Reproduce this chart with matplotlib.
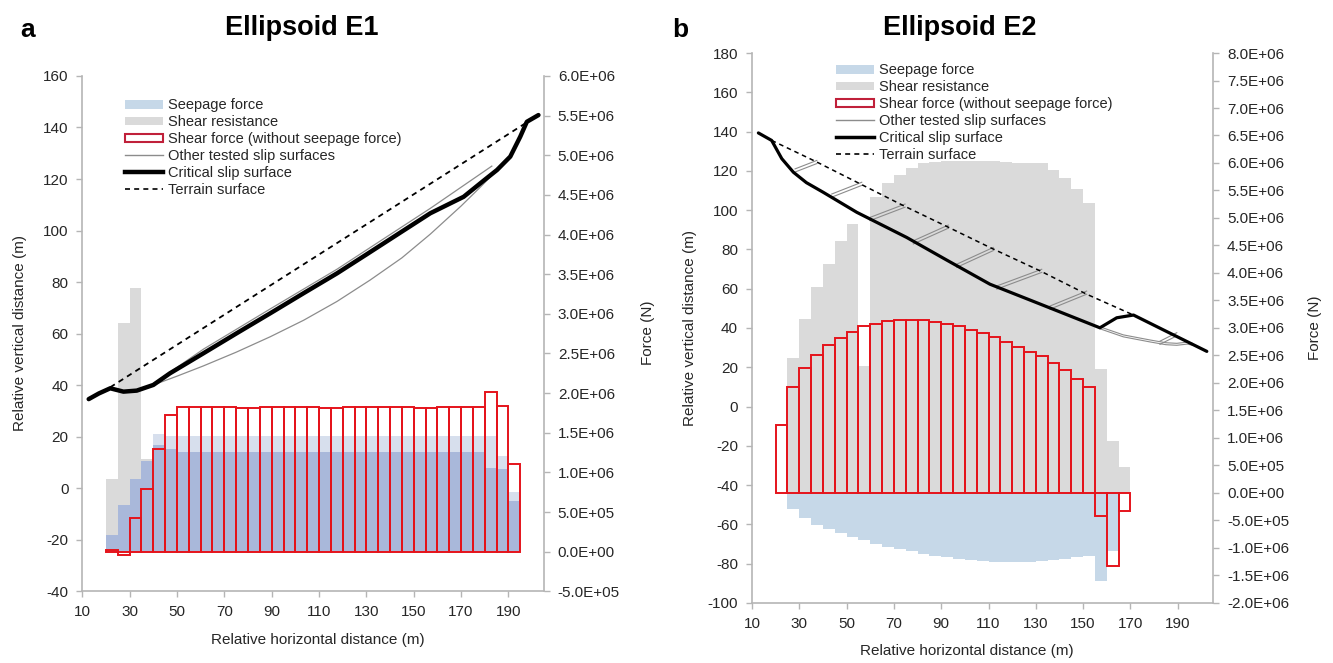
import numpy as np
import matplotlib.pyplot as plt
from matplotlib.patches import Patch
from matplotlib.lines import Line2D
from matplotlib.ticker import FuncFormatter, MultipleLocator

plt.rcParams['font.family'] = ['Liberation Sans', 'DejaVu Sans']
plt.rcParams['axes.unicode_minus'] = False

# ---------------- panel a : Ellipsoid E1 ----------------
slice_a = np.arange(20, 195, 5)          # left edge of each slice (m)
seepage_a = np.array([0.21, 0.59, 0.92, 1.15, 1.48, 1.46,
                      1.46, 1.46, 1.46, 1.46, 1.46, 1.46, 1.46, 1.46, 1.46, 1.46, 1.46, 1.46, 1.46,
                      1.46, 1.46, 1.46, 1.46, 1.46, 1.46, 1.46, 1.46, 1.46, 1.46, 1.46, 1.46, 1.46,
                      1.46, 1.21, 0.75]) * 1e6
resist_a = np.array([0.92, 2.88, 3.32, 1.17, 1.34, 1.30,
                     1.26, 1.26, 1.26, 1.26, 1.26, 1.26, 1.26, 1.26, 1.26, 1.26, 1.26, 1.26, 1.26,
                     1.26, 1.26, 1.26, 1.26, 1.26, 1.26, 1.26, 1.26, 1.26, 1.26, 1.26, 1.26, 1.26,
                     1.05, 1.04, 0.64]) * 1e6
shear_a = np.array([0.02, -0.04, 0.42, 0.79, 1.29, 1.72,
                    1.83, 1.83, 1.83, 1.83, 1.83, 1.815, 1.815, 1.83, 1.83, 1.83, 1.83, 1.83, 1.815,
                    1.815, 1.83, 1.83, 1.83, 1.83, 1.83, 1.83, 1.815, 1.815, 1.83, 1.83, 1.83, 1.83,
                    2.02, 1.835, 1.11]) * 1e6

crit_a_x = [12.7, 17, 21.8, 27.4, 33, 40, 47, 61.2, 75.3, 89.4, 103.5, 117.6, 130, 145, 157, 171.1, 180, 185.2, 190.8, 195, 197.8, 202.7]
crit_a_y = [34.6, 36.8, 38.8, 37.5, 37.9, 40.1, 44.6, 52.4, 60.2, 67.9, 75.7, 83.4, 90.7, 99.6, 106.7, 113.1, 119.7, 123.5, 128.7, 136.4, 142.2, 144.8]
terrain_a_x = [21.8, 197.5]
terrain_a_y = [39.2, 141.8]
other_a = [
    ([40, 50, 61.2, 75, 89.4, 103.5, 117.6, 131.6, 145, 157, 170, 178.1, 185.2],
     [40.1, 43.5, 47.5, 52.8, 58.8, 65.2, 72.5, 80.8, 89.4, 98.6, 109.5, 116.8, 123.5]),
    ([40, 61.2, 89.4, 117.6, 157, 183],
     [40.6, 54.0, 69.6, 85.0, 108.6, 125.0]),
]

# ---------------- panel b : Ellipsoid E2 ----------------
slice_b = np.arange(20, 170, 5)
seepage_b = np.array([0, -0.287, -0.448, -0.573, -0.657, -0.734, -0.80, -0.86, -0.919, -0.973,
                      -1.021, -1.063, -1.104, -1.14, -1.17, -1.20, -1.224, -1.242, -1.254, -1.254,
                      -1.254, -1.248, -1.236, -1.218, -1.194, -1.17, -1.146, -1.6, -1.06, 0]) * 1e6
resist_b = np.array([0, 2.45, 3.16, 3.74, 4.16, 4.58, 4.89, 2.30, 5.38, 5.64,
                     5.79, 5.91, 6.0, 6.02, 6.03, 6.03, 6.03, 6.03, 6.03, 6.02,
                     6.0, 6.0, 6.0, 5.88, 5.72, 5.52, 5.28, 2.25, 0.95, 0.48]) * 1e6
shear_b = np.array([1.235, 1.92, 2.28, 2.51, 2.69, 2.82, 2.93, 3.03, 3.08, 3.12,
                    3.14, 3.15, 3.14, 3.11, 3.08, 3.03, 2.97, 2.90, 2.83, 2.75,
                    2.66, 2.57, 2.49, 2.37, 2.23, 2.08, 1.92, -0.42, -1.33, -0.33]) * 1e6

crit_b_x = [12.7, 18.3, 22.6, 27.5, 33, 40.1, 54.3, 75.4, 92, 110.6, 131.8, 157.1, 164.2, 171.3, 185, 202.3]
crit_b_y = [139.3, 135.5, 126.2, 119.3, 114, 109.1, 98.9, 86.1, 74.8, 62.3, 52.2, 40.1, 45.2, 46.6, 38.4, 28.1]
terrain_b_x = [18.3, 37.4, 55.7, 74, 93.7, 110.6, 131.8, 151.5, 171.3]
terrain_b_y = [135.5, 124.5, 113.4, 102.3, 90.9, 81, 69.1, 57.2, 46.6]
# short tested surfaces (start x, start y, end x, end y)
other_b = [
    (28.2, 120.2, 37.4, 124.5),
    (43.7, 107.4, 56.4, 113.4),
    (59.9, 95.5, 74.7, 102.3),
    (78.2, 83.6, 93.0, 91.6),
    (96.6, 71.7, 112.0, 80.2),
    (113.5, 60.6, 132.5, 69.1),
    (136.0, 50.4, 151.5, 58.0),
    (182.5, 32.5, 189.6, 36.8),
]
lower_b_x = [157.1, 167, 178.3, 185, 189.6, 194, 196]
lower_b_y = [40.1, 36.0, 33.4, 32.0, 31.7, 32.3, 31.8]

legend_labels = ['Seepage force', 'Shear resistance', 'Shear force (without seepage force)',
                 'Other tested slip surfaces', 'Critical slip surface', 'Terrain surface']

RED = '#e5131b'
GRAY = '#dadada'
SEEP = '#c6d8e8'
SPINE = '#b5b5b5'
TXT = '#262626'

fig = plt.figure(figsize=(13.33, 6.63), dpi=100)


def style_axes(ax, ax2, ylim, yticks, ylim2, step2):
    ax.set_xlim(10, 205)
    ax.set_xticks(np.arange(10, 191, 20))
    ax.set_ylim(*ylim)
    ax.set_yticks(yticks)
    ax2.set_ylim(*ylim2)
    ax2.yaxis.set_major_locator(MultipleLocator(step2))
    ax2.yaxis.set_major_formatter(FuncFormatter(lambda v, p: f"{v:.1E}"))
    for s in ['top', 'right']:
        ax.spines[s].set_visible(False)
    for s in ['top', 'left', 'bottom']:
        ax2.spines[s].set_visible(False)
    for a in (ax, ax2):
        for s in a.spines.values():
            s.set_color(SPINE)
            s.set_linewidth(1.2)
        a.tick_params(colors=SPINE, labelcolor=TXT, labelsize=11, length=4, width=1.0, pad=6)
    ax.set_zorder(ax2.get_zorder() + 1)
    ax.patch.set_visible(False)


def legend_handles(crit_lw):
    return [Patch(facecolor=SEEP, edgecolor='none'),
            Patch(facecolor=GRAY, edgecolor='none'),
            Patch(facecolor='white', edgecolor='#c0203a', linewidth=1.5),
            Line2D([], [], color='#8c8c8c', lw=1.0),
            Line2D([], [], color='black', lw=crit_lw),
            Line2D([], [], color='black', lw=1.2, ls=(0, (3, 2.5)))]


# ----- panel a
axa = fig.add_axes([0.06174, 0.10799, 0.34628, 0.77753])
axa2 = axa.twinx()
axa2.bar(slice_a, resist_a, width=5, align='edge', color=GRAY, lw=0)
axa2.bar(slice_a, seepage_a, width=5, align='edge', color='#d7dfed', lw=0)
axa2.bar(slice_a, np.minimum(seepage_a, resist_a), width=5, align='edge', color='#a9b8da', lw=0)
axa2.bar(slice_a, shear_a, width=5, align='edge', facecolor='none', edgecolor=RED, lw=1.4)
for ox, oy in other_a:
    axa.plot(ox, oy, color='#8c8c8c', lw=0.9)
axa.plot(terrain_a_x, terrain_a_y, color='black', lw=1.3, ls=(0, (3, 2.5)))
axa.plot(crit_a_x, crit_a_y, color='black', lw=3.2, solid_capstyle='round')
style_axes(axa, axa2, (-40, 160), np.arange(-40, 161, 20), (-0.5e6, 6.0e6), 5e5)
axa.legend(legend_handles(3.2), legend_labels, loc='upper left',
           bbox_to_anchor=(118 / 1333, 1 - 91 / 663), bbox_transform=fig.transFigure,
           frameon=False, borderpad=0, handlelength=2.6, handleheight=0.55,
           handletextpad=0.3, labelspacing=0.2, fontsize=10.5, labelcolor=TXT)

# ----- panel b
axb = fig.add_axes([0.56414, 0.0905, 0.34599, 0.82956])
axb2 = axb.twinx()
axb2.bar(slice_b, resist_b, width=5, align='edge', color=GRAY, lw=0)
axb2.bar(slice_b, seepage_b, width=5, align='edge', color=SEEP, lw=0)
axb2.bar(slice_b, shear_b, width=5, align='edge', facecolor='none', edgecolor=RED, lw=1.4)
for x0, y0, x1, y1 in other_b:
    for d in (-0.8, 0.8):
        axb.plot([x0, x1], [y0 + d, y1 + d], color='#8c8c8c', lw=0.8)
for d in (-0.5, 0.5):
    axb.plot(lower_b_x, np.array(lower_b_y) + d, color='#8c8c8c', lw=0.8)
axb.plot(terrain_b_x, terrain_b_y, color='black', lw=1.1, ls=(0, (3, 2.5)))
axb.plot(crit_b_x, crit_b_y, color='black', lw=2.3, solid_capstyle='round')
style_axes(axb, axb2, (-100, 180), np.arange(-100, 181, 20), (-2.0e6, 8.0e6), 5e5)
axb.legend(legend_handles(2.5), legend_labels, loc='upper left',
           bbox_to_anchor=(829 / 1333, 1 - 56 / 663), bbox_transform=fig.transFigure,
           frameon=False, borderpad=0, handlelength=2.6, handleheight=0.55,
           handletextpad=0.3, labelspacing=0.2, fontsize=10.5, labelcolor=TXT)

# axis labels (pixel positions in the figure)
for xl, xr, ym, xc, yb in [(20, 648, 333, 318, 640), (690, 1315, 328, 967, 651)]:
    fig.text(xl / 1333, 1 - ym / 663, 'Relative vertical distance (m)', rotation=90,
             ha='center', va='center', fontsize=11, color=TXT)
    fig.text(xr / 1333, 1 - ym / 663, 'Force (N)', rotation=90,
             ha='center', va='center', fontsize=11, color=TXT)
    fig.text(xc / 1333, 1 - yb / 663, 'Relative horizontal distance (m)',
             ha='center', va='center', fontsize=11, color=TXT)

fig.text(302 / 1333, 1 - 28 / 663, 'Ellipsoid E1', ha='center', va='center',
         fontsize=19.5, fontweight='bold', color='black')
fig.text(960 / 1333, 1 - 28 / 663, 'Ellipsoid E2', ha='center', va='center',
         fontsize=19.5, fontweight='bold', color='black')
fig.text(28 / 1333, 1 - 30 / 663, 'a', ha='center', va='center',
         fontsize=19, fontweight='bold', color='black')
fig.text(680 / 1333, 1 - 30 / 663, 'b', ha='center', va='center',
         fontsize=19, fontweight='bold', color='black')

fig.savefig('out.png', dpi=100)
